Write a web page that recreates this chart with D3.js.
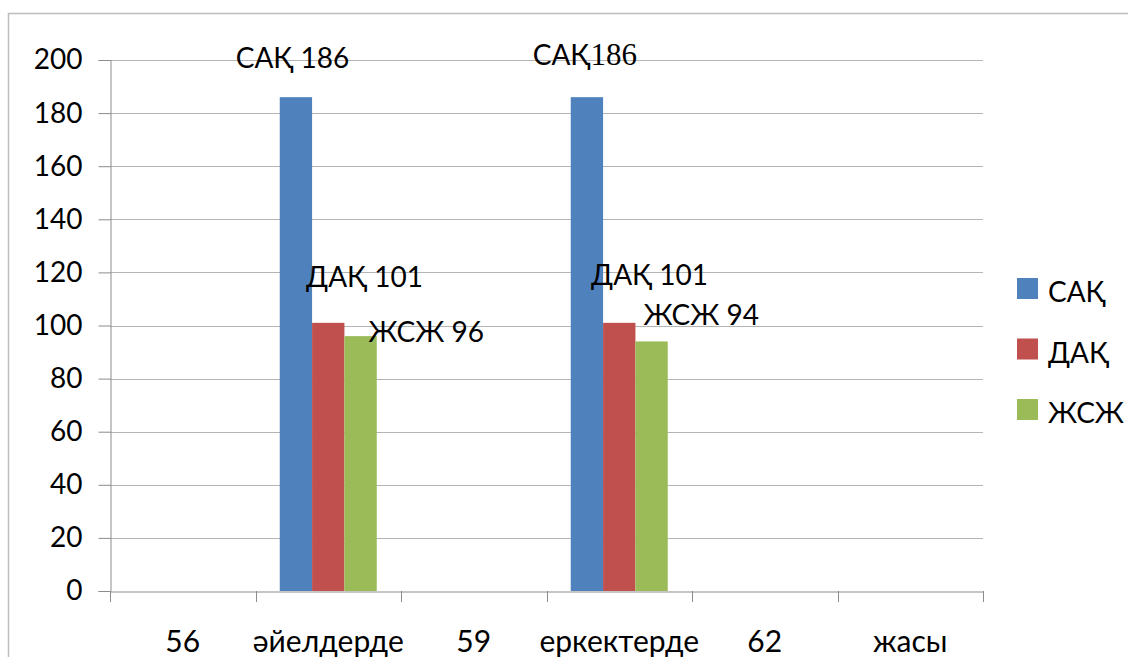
<!DOCTYPE html>
<html>
<head>
<meta charset="utf-8">
<script src="https://cdn.jsdelivr.net/npm/d3@7/dist/d3.min.js"></script>
<style>
  html, body { margin: 0; padding: 0; background: #fff; }
  svg { display: block; }
  text { font-family: Lato, "Open Sans", "DejaVu Sans", sans-serif; fill: #000; }
</style>
</head>
<body>
<svg id="chart" width="1128" height="657"></svg>
<script>
// Category labels along the x axis
const categories = ["56", "әйелдерде", "59", "еркектерде", "62", "жасы"];
// Series names
const seriesNames = ["САҚ", "ДАҚ", "ЖСЖ"];
// Values per series, aligned with categories (null = no bar)
const sakValues = [null, 186, null, 186, null, null];
const dakValues = [null, 101, null, 101, null, null];
const zhszhValues = [null, 96, null, 94, null, null];
// Y axis ticks
const yTicks = [0, 20, 40, 60, 80, 100, 120, 140, 160, 180, 200];

const colors = { "САҚ": "#4f81bd", "ДАҚ": "#c0504d", "ЖСЖ": "#9bbb59" };
const seriesValues = { "САҚ": sakValues, "ДАҚ": dakValues, "ЖСЖ": zhszhValues };

// Hand-placed data label offsets (dx from bar left edge, dy from bar top), per series per category
const labelOffsets = {
  "САҚ": { 1: { dx: -44, dy: -29 }, 3: { dx: -38, dy: -32 } },
  "ДАҚ": { 1: { dx: -6, dy: -36 }, 3: { dx: -12, dy: -38 } },
  "ЖСЖ": { 1: { dx: 24, dy: 6 }, 3: { dx: 8, dy: -16 } }
};

const svg = d3.select("#chart");

// Outer chart frame
svg.append("rect")
  .attr("x", 8.5).attr("y", 13.5)
  .attr("width", 1200).attr("height", 700)
  .attr("fill", "none").attr("stroke", "#bdbdbd").attr("stroke-width", 1.5);

const plot = { left: 110, right: 983, top: 60, bottom: 591 };

const x0 = d3.scaleBand().domain(categories).range([plot.left, plot.right]).padding(0);
const groupWidth = x0.bandwidth() * 3 / 4.5;   // gap width 150%
const x1 = d3.scaleBand().domain(seriesNames).range([0, groupWidth]).padding(0);
const y = d3.scaleLinear().domain([0, 200]).range([plot.bottom, plot.top]);

// Horizontal gridlines
svg.append("g")
  .selectAll("line")
  .data(yTicks.filter(t => t > 0))
  .join("line")
  .attr("x1", plot.left).attr("x2", plot.right)
  .attr("y1", d => Math.round(y(d)) + 0.5).attr("y2", d => Math.round(y(d)) + 0.5)
  .attr("stroke", "#b4b4b4").attr("stroke-width", 1);

// Y axis
const yAxis = svg.append("g")
  .attr("transform", `translate(${plot.left + 0.5},0)`)
  .call(d3.axisLeft(y).tickValues(yTicks).tickSize(12).tickPadding(16).tickFormat(d3.format("d")));
yAxis.select(".domain").attr("stroke", "#8c8c8c");
yAxis.selectAll(".tick line").attr("stroke", "#8c8c8c");
yAxis.selectAll(".tick text")
  .attr("font-size", 28).attr("font-family", "Lato, 'Open Sans', sans-serif").attr("fill", "#000");

// X axis
const xAxis = svg.append("g")
  .attr("transform", `translate(0,${Math.round(y(0)) + 0.5})`)
  .call(d3.axisBottom(x0).tickSize(0).tickPadding(39));
xAxis.select(".domain").attr("stroke", "#8c8c8c");
xAxis.selectAll(".tick text")
  .attr("font-size", 30).attr("font-family", "Lato, 'Open Sans', sans-serif").attr("fill", "#000");

// Category boundary tick marks
const boundaries = categories.map(c => x0(c)).concat([plot.right]);
svg.append("g")
  .selectAll("line")
  .data(boundaries)
  .join("line")
  .attr("x1", d => Math.round(d) + 0.5).attr("x2", d => Math.round(d) + 0.5)
  .attr("y1", Math.round(y(0))).attr("y2", Math.round(y(0)) + 11)
  .attr("stroke", "#8c8c8c");

// Bars
const barData = [];
seriesNames.forEach(s => {
  seriesValues[s].forEach((v, i) => {
    if (v !== null) barData.push({ series: s, category: categories[i], index: i, value: v });
  });
});

const offset = (x0.bandwidth() - groupWidth) / 2;
const barX = d => x0(d.category) + offset + x1(d.series);

svg.append("g")
  .selectAll("rect")
  .data(barData)
  .join("rect")
  .attr("x", barX)
  .attr("y", d => y(d.value))
  .attr("width", x1.bandwidth())
  .attr("height", d => y(0) - y(d.value))
  .attr("fill", d => colors[d.series]);

// Data labels
const labels = svg.append("g")
  .selectAll("text")
  .data(barData)
  .join("text")
  .attr("x", d => barX(d) + labelOffsets[d.series][d.index].dx)
  .attr("y", d => y(d.value) + labelOffsets[d.series][d.index].dy)
  .attr("font-size", 28);

labels.each(function (d) {
  const t = d3.select(this);
  if (d.series === "САҚ" && d.index === 3) {
    // This label mixes a sans name with serif digits and no space
    t.append("tspan").text(d.series);
    t.append("tspan").attr("font-family", "'Liberation Serif', 'DejaVu Serif', serif")
      .attr("font-size", 31).text(d.value);
  } else {
    t.text(`${d.series} ${d.value}`);
  }
});

// Legend
const legend = svg.append("g")
  .selectAll("g")
  .data(seriesNames)
  .join("g")
  .attr("transform", (d, i) => `translate(1017,${278 + i * 60.5})`);
legend.append("rect")
  .attr("width", 21).attr("height", 21)
  .attr("fill", d => colors[d]);
legend.append("text")
  .attr("x", 31).attr("y", 24)
  .attr("font-size", 28)
  .text(d => d);
</script>
</body>
</html>
